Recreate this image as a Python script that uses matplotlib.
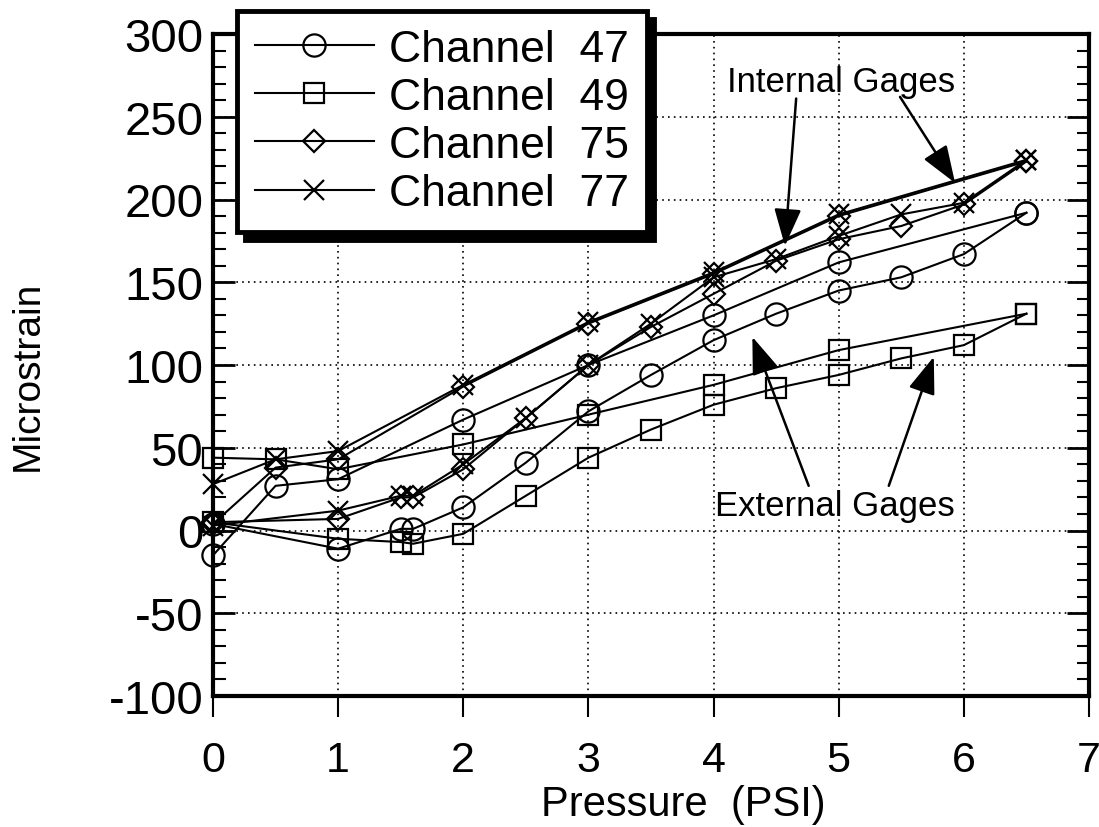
import matplotlib
matplotlib.use('Agg')
import matplotlib.pyplot as plt
from matplotlib.lines import Line2D
from matplotlib.ticker import MultipleLocator

plt.rcParams['font.family'] = ['Liberation Sans', 'DejaVu Sans']

# ---- data ----
pressure_a = [0, 0.5, 1, 2, 3, 4, 5, 6.5]
pressure_b = [0, 1, 1.5, 1.6, 2, 2.5, 3, 3.5, 4, 4.5, 5, 5.5, 6, 6.5]

ch47_a = [-15, 27, 31, 67, 100, 130, 162, 192]
ch47_b = [4, -11, 1, 1, 14, 41, 72, 94, 115, 131, 145, 153, 167, 192]
ch49_a = [44, 43, 37, 52, 70, 88, 109, 131]
ch49_b = [5, -5, -7, -8, -2, 21, 44, 61, 76, 86, 94, 104, 112, 131]
ch75_a = [4, 38, 43, 87, 125, 155, 190, 223]
ch75_b = [5, 7, 20, 20, 37, 68, 100, 123, 143, 163, 176, 184, 197, 223]
ch77_a = [28, 43, 48, 88, 126, 156, 191, 224]
ch77_b = [3, 12, 21, 21, 40, 68, 100, 125, 153, 164, 178, 191, 198, 224]

labels = ['Channel  47', 'Channel  49', 'Channel  75', 'Channel  77']
y_ticks = [-100, -50, 0, 50, 100, 150, 200, 250, 300]
x_ticks = [0, 1, 2, 3, 4, 5, 6, 7]

W, H = 1099, 828
fig = plt.figure(figsize=(W / 100, H / 100), dpi=100)
ax = fig.add_axes([213 / W, 1 - 697 / H, (1089 - 213) / W, (697 - 35) / H])

styles = [
    dict(marker='o', markersize=16, markeredgewidth=1.6),
    dict(marker='s', markersize=14, markeredgewidth=1.6),
    dict(marker='D', markersize=11, markeredgewidth=1.6),
    dict(marker='x', markersize=15, markeredgewidth=1.6),
]
series = [(ch47_a, ch47_b), (ch49_a, ch49_b), (ch75_a, ch75_b), (ch77_a, ch77_b)]

for (ya, yb), st in zip(series, styles):
    for xs, ys in ((pressure_a, ya), (pressure_b, yb)):
        ax.plot(xs, ys, color='black', lw=1.5, markerfacecolor='none',
                markeredgecolor='black', clip_on=False, zorder=3, **st)

ax.set_xlim(0, 7)
ax.set_ylim(-100, 300)
ax.set_xticks(x_ticks)
ax.set_xticklabels([str(v) for v in x_ticks])
ax.set_yticks(y_ticks)
ax.set_yticklabels([str(v) for v in y_ticks])
ax.yaxis.set_minor_locator(MultipleLocator(10))

ax.grid(True, which='major', linestyle=(0, (1, 2.5)), color='black', lw=1.2)
for s in ax.spines.values():
    s.set_linewidth(3)

ax.tick_params(axis='y', which='major', direction='in', length=16, width=2,
               left=True, right=True, labelsize=34, pad=7)
ax.tick_params(axis='y', which='minor', direction='in', length=9, width=1.5,
               left=True, right=True)
ax.tick_params(axis='x', which='major', direction='out', length=15, width=1.5,
               top=False, labelsize=31, pad=17)

fig.text(28 / W, 1 - 376 / H, 'Microstrain', rotation=90, ha='center',
         va='center', fontsize=28)
fig.text(683 / W, 1 - 805 / H, 'Pressure  (PSI)', ha='center', va='center',
         fontsize=30)

# annotations
ax.text(5.02, 271, 'Internal Gages', ha='center', va='center', fontsize=25)
ax.text(4.97, 15, 'External Gages', ha='center', va='center', fontsize=25)
arrow_kw = dict(arrowstyle='-|>,head_length=1.15,head_width=0.42',
                color='black', lw=1.8, shrinkA=0, shrinkB=0, mutation_scale=20)
for tail, tip in [((4.66, 261), (4.57, 172)), ((5.49, 262), (5.93, 210)),
                  ((4.76, 27), (4.31, 117)), ((5.40, 27), (5.76, 105))]:
    ax.annotate('', xy=tip, xytext=tail, arrowprops=arrow_kw, zorder=5)

# legend
handles = [Line2D([], [], color='black', lw=1.5, markerfacecolor='none',
                  markeredgecolor='black', **st) for st in styles]
leg = ax.legend(handles, labels, loc='upper left',
                bbox_to_anchor=(237 / W, 1 - 12 / H), bbox_transform=fig.transFigure,
                borderaxespad=0, fontsize=32, frameon=True, fancybox=False,
                edgecolor='black', framealpha=1, handlelength=2.68,
                handletextpad=0.34, borderpad=0.4, labelspacing=0.16, numpoints=1,
                shadow={'ox': 5.5, 'oy': -6, 'facecolor': 'black',
                        'edgecolor': 'black', 'alpha': 1})
leg.get_frame().set_linewidth(3.5)
leg.set_zorder(10)

fig.savefig('out.png', dpi=100)
